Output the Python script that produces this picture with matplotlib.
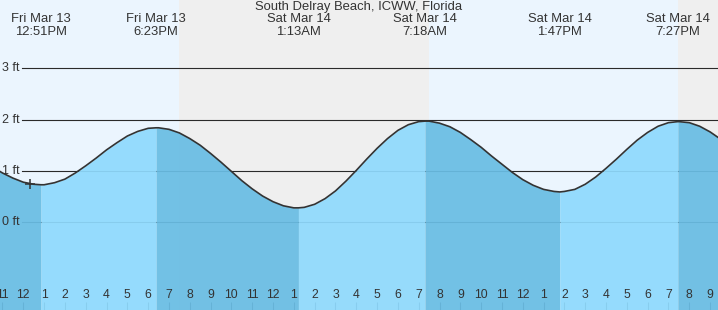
import numpy as np
import matplotlib
matplotlib.use("Agg")
import matplotlib.pyplot as plt
import matplotlib.transforms as mtransforms

plt.rcParams['font.family'] = ['Liberation Sans', 'DejaVu Sans']

title = "South Delray Beach, ICWW, Florida"

# half-hourly readings, hours counted from Fri Mar 13 00:00
hours = np.arange(10, 46.5, 0.5)
heights = [1.22, 1.08, 0.96, 0.86, 0.78, 0.74, 0.73, 0.77, 0.84, 0.96,
           1.10, 1.25, 1.41, 1.55, 1.68, 1.77, 1.83, 1.84, 1.81, 1.74,
           1.63, 1.50, 1.34, 1.17, 0.99, 0.81, 0.65, 0.51, 0.40, 0.32,
           0.28, 0.29, 0.35, 0.46, 0.61, 0.80, 1.01, 1.23, 1.44, 1.63,
           1.79, 1.90, 1.96, 1.97, 1.93, 1.86, 1.75, 1.61, 1.46, 1.29,
           1.13, 0.97, 0.83, 0.72, 0.64, 0.60, 0.60, 0.64, 0.74, 0.88,
           1.05, 1.23, 1.42, 1.60, 1.75, 1.87, 1.94, 1.96, 1.94, 1.87,
           1.76, 1.62, 1.47]

# high / low tides
ext_times = [12.85, 18.38, 25.22, 31.30, 37.78, 43.45]
ext_heights = [0.73, 1.84, 0.28, 1.97, 0.59, 1.96]
ext_dates = ["Fri Mar 13", "Fri Mar 13", "Sat Mar 14", "Sat Mar 14", "Sat Mar 14", "Sat Mar 14"]
ext_clock = ["12:51PM", "6:23PM", "1:13AM", "7:18AM", "1:47PM", "7:27PM"]

# night (sunset -> sunrise)
night_start = [19.49, 43.46]
night_end = [31.50, 47.0]

now_time = 12.32
now_height = 0.75

ft_levels = [0, 1, 2, 3]
tick_hours = np.arange(11, 46)
midnight = [24]

xmin, xmax = 10.88, 45.38
ymin, ymax = -1.71, 4.33

c_text = "#333333"
c_day = "#ebf5fe"
c_night = "#efefef"
c_rise = "#8fdafd"
c_fall = "#69bde4"

W, H = 718, 310
fig = plt.figure(figsize=(W/100, H/100), dpi=100)
ax = fig.add_axes([0, 0, 1, 1])
ax.set_facecolor(c_day)
ax.set_xlim(xmin, xmax)
ax.set_ylim(ymin, ymax)
for s in ax.spines.values():
    s.set_visible(False)

for a, b in zip(night_start, night_end):
    ax.axvspan(a, b, color=c_night, lw=0, zorder=0)

# grid lines (under the semi transparent water)
ytrans = mtransforms.blended_transform_factory(ax.transAxes, ax.transData)
for lv in ft_levels:
    ax.axhline(lv, xmin=22/W, color="#2a2a2a", lw=0.8, zorder=1)
    ax.text(20/W, lv, "%d ft" % lv, transform=ytrans,
            ha="right", va="center", fontsize=9, color=c_text, zorder=6)

t = np.concatenate([hours, ext_times])
h = np.concatenate([heights, ext_heights])
order = np.argsort(t)
t = t[order]
h = h[order]

bounds = [t.min()] + ext_times + [t.max()]
for a, b in zip(bounds[:-1], bounds[1:]):
    m = (t >= a) & (t <= b)
    rising = h[m][-1] > h[m][0]
    ax.fill_between(t[m], ymin, h[m], color=c_rise if rising else c_fall,
                    alpha=0.93, lw=0, zorder=2)

ax.plot(t, h, color="#333333", lw=1.2, zorder=3)
ax.plot([now_time], [now_height], marker="+", ms=7, mew=1.1, color="#333333", zorder=4)

# hour ticks along the bottom
ax.set_yticks([])
ax.set_xticks(tick_hours)
ax.set_xticks(midnight, minor=True)
ax.tick_params(axis="x", which="major", direction="in", length=5.8, width=0.8,
               color=c_text, labelbottom=False)
ax.tick_params(axis="x", which="minor", direction="in", length=5.8, width=2.4,
               color=c_text, labelbottom=False)
trans = mtransforms.blended_transform_factory(ax.transData, ax.transAxes)
for hr in tick_hours:
    ax.text(hr, 1 - 295.5/H, str((hr - 1) % 12 + 1), transform=trans,
            ha="center", va="center", fontsize=8.8, color=c_text, zorder=6)

fig.text(0.5, 1 - 7/H, title, ha="center", va="center", fontsize=9.4, color=c_text)
for et, d, c in zip(ext_times, ext_dates, ext_clock):
    ax.text(et, 1 - 19.5/H, d, transform=trans, ha="center", va="center", fontsize=9.4, color=c_text)
    ax.text(et, 1 - 32/H, c, transform=trans, ha="center", va="center", fontsize=9.4, color=c_text)

fig.savefig("out.png", dpi=100)
